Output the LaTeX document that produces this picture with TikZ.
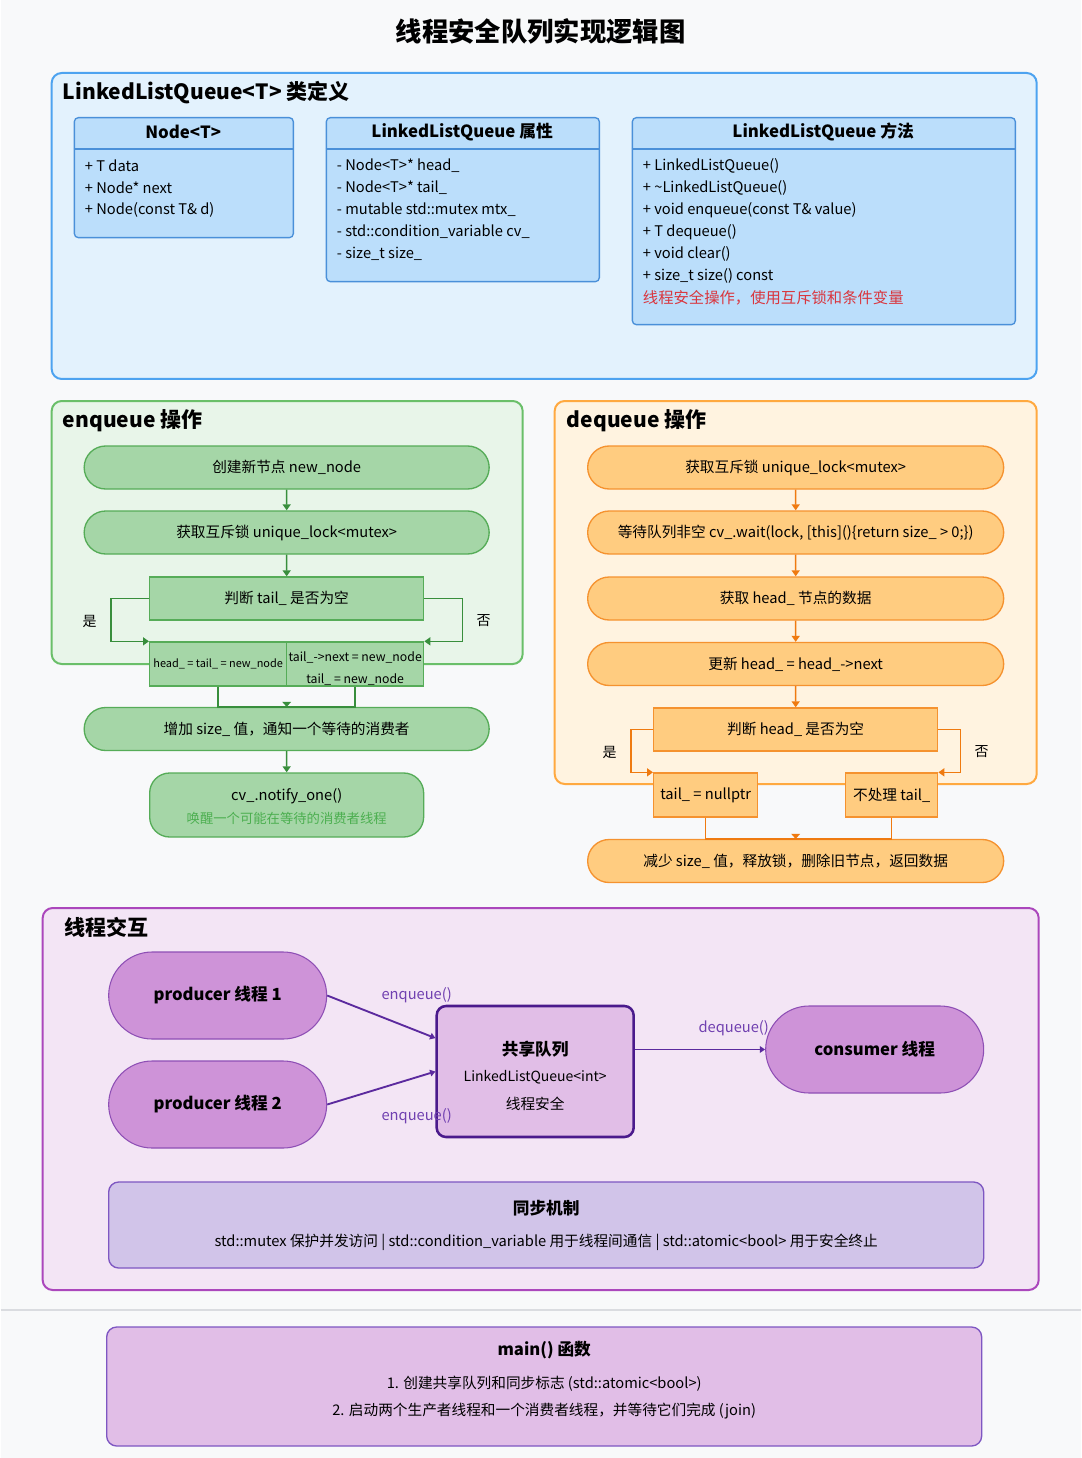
\documentclass[tikz,border=0pt]{standalone}
\usepackage{fontspec}
\setmainfont{Noto Sans CJK SC}
\usetikzlibrary{arrows.meta,calc,shapes.misc}
\definecolor{bgc}{HTML}{F8F9FA}
\definecolor{bSec}{HTML}{E3F2FD}
\definecolor{bSecLine}{HTML}{4DA3F0}
\definecolor{clsFill}{HTML}{BBDEFB}
\definecolor{clsLine}{HTML}{4A90D9}
\definecolor{gSec}{HTML}{E8F5E9}
\definecolor{gSecLine}{HTML}{6ABF69}
\definecolor{gNode}{HTML}{A5D6A7}
\definecolor{gLine}{HTML}{56AC58}
\definecolor{gDark}{HTML}{388E3C}
\definecolor{oSec}{HTML}{FFF3E0}
\definecolor{oSecLine}{HTML}{FFA940}
\definecolor{oNode}{HTML}{FFCC80}
\definecolor{oLine}{HTML}{F5922F}
\definecolor{oDark}{HTML}{EF7A10}
\definecolor{pSec}{HTML}{F3E5F5}
\definecolor{pSecLine}{HTML}{AB47BC}
\definecolor{pNode}{HTML}{CE93D8}
\definecolor{pNodeLine}{HTML}{8E4FB5}
\definecolor{qFill}{HTML}{E1BEE7}
\definecolor{qLine}{HTML}{4A1A8C}
\definecolor{pLink}{HTML}{5B2A9E}
\definecolor{pLabel}{HTML}{7040B0}
\definecolor{syncFill}{HTML}{D1C4E9}
\definecolor{syncLine}{HTML}{7E57C2}
\definecolor{redTxt}{HTML}{D9363E}
\definecolor{notifyTxt}{HTML}{4CAF50}
\definecolor{sepLine}{HTML}{DADCE0}
\newcommand\pxl{0.75pt}
\begin{document}
\begin{tikzpicture}[x=0.75pt,y=-0.75pt,
  every node/.style={inner sep=0pt},
  ttl/.style={font=\fontsize{19.75}{23}\selectfont\bfseries},
  secttl/.style={anchor=west,font=\fontsize{15.75}{18}\selectfont\bfseries},
  sec/.style={rounded corners=7.5pt,line width=1.5pt},
  clsbox/.style={draw=clsLine,fill=clsFill,rounded corners=3pt,line width=1pt,anchor=north west},
  clsline/.style={draw=clsLine,line width=1pt},
  clshead/.style={font=\fontsize{12.6}{14}\selectfont\bfseries},
  item/.style={anchor=west,font=\fontsize{11}{13}\selectfont},
  txt/.style={font=\fontsize{11}{13}\selectfont},
  bold/.style={font=\fontsize{12.5}{14}\selectfont\bfseries},
  small/.style={font=\fontsize{8.2}{9.6}\selectfont},
  lab/.style={font=\fontsize{10.5}{12}\selectfont},
  wide/.style={rounded rectangle,minimum width=405*\pxl,minimum height=43*\pxl},
  owide/.style={rounded rectangle,minimum width=416*\pxl,minimum height=43*\pxl},
  gnode/.style={draw=gLine,fill=gNode,line width=1pt,txt},
  onode/.style={draw=oLine,fill=oNode,line width=1pt,txt},
  garrow/.style={draw=gDark,line width=1.1pt,-{Triangle[length=4.5pt,width=6pt]}},
  gline/.style={draw=gDark,line width=1.1pt},
  oarrow/.style={draw=oDark,line width=1.1pt,-{Triangle[length=4.5pt,width=6pt]}},
  oline/.style={draw=oDark,line width=1.1pt},
  pnode/.style={rounded rectangle,draw=pNodeLine,fill=pNode,line width=0.8pt,minimum width=218*\pxl,minimum height=87*\pxl,font=\fontsize{12.5}{15}\selectfont\bfseries},
  plink/.style={draw=pLink,line width=1.4pt,-{Triangle[length=4pt,width=5pt]}},
  plab/.style={text=pLabel,font=\fontsize{11}{13}\selectfont}]
\fill[bgc] (0,0) rectangle (1080,1458);
\node[ttl] (title) at (540,31) {线程安全队列实现逻辑图};

\draw[sec,draw=bSecLine,fill=bSec] (51,73) rectangle (1036,379);
\node[secttl] (clsTitle) at (62,93) {LinkedListQueue<T> 类定义};
\node[clsbox,minimum width=219*\pxl,minimum height=120*\pxl] (clsNode) at (73,117) {};
\draw[clsline] ([yshift=-32*\pxl]clsNode.north west) -- ([yshift=-32*\pxl]clsNode.north east);
\node[clshead] (clsNodeHead) at (182.5,132) {Node<T>};
\foreach \t [count=\i] in {+ T data,+ Node* next,+ Node(const T\& d)}
  \node[item] (clsNode\i) at (84,144+22*\i) {\t};
\node[clsbox,minimum width=273*\pxl,minimum height=164*\pxl] (clsAttr) at (325,117) {};
\draw[clsline] ([yshift=-32*\pxl]clsAttr.north west) -- ([yshift=-32*\pxl]clsAttr.north east);
\node[clshead] (clsAttrHead) at (461.5,132) {LinkedListQueue 属性};
\foreach \t [count=\i] in {- Node<T>* head\_,- Node<T>* tail\_,- mutable std::mutex mtx\_,- std::condition\_variable cv\_,- size\_t size\_}
  \node[item] (clsAttr\i) at (336,144+22*\i) {\t};
\node[clsbox,minimum width=383*\pxl,minimum height=207*\pxl] (clsMeth) at (631,117) {};
\draw[clsline] ([yshift=-32*\pxl]clsMeth.north west) -- ([yshift=-32*\pxl]clsMeth.north east);
\node[clshead] (clsMethHead) at (822.5,132) {LinkedListQueue 方法};
\foreach \t [count=\i] in {+ LinkedListQueue(),+ \textasciitilde LinkedListQueue(),+ void enqueue(const T\& value),+ T dequeue(),+ void clear(),+ size\_t size() const}
  \node[item] (clsMeth\i) at (642,144+22*\i) {\t};
\node[item,text=redTxt,font=\fontsize{11.5}{13}\selectfont] (clsMethNote) at (642,298) {线程安全操作，使用互斥锁和条件变量};

\draw[sec,draw=gSecLine,fill=gSec] (51,401) rectangle (522,664);
\node[secttl] (enTitle) at (62,421) {enqueue 操作};
\node[gnode,wide] (enNew) at (286,467.5) {创建新节点 new\_node};
\node[gnode,wide] (enLock) at (286,532.5) {获取互斥锁 unique\_lock<mutex>};
\node[gnode,minimum width=274*\pxl,minimum height=43*\pxl] (enCheck) at (286,598.5) {判断 tail\_ 是否为空};
\node[gnode,small,minimum width=137*\pxl,minimum height=44*\pxl] (enYes) at (217.5,664) {head\_ = tail\_ = new\_node};
\node[gnode,minimum width=137*\pxl,minimum height=44*\pxl] (enNo) at (354.5,664) {};
\node[font=\fontsize{9.2}{10.8}\selectfont] (enNo1) at (354.5,657) {tail\_->next = new\_node};
\node[font=\fontsize{9.2}{10.8}\selectfont] (enNo2) at (354.5,679) {tail\_ = new\_node};
\node[gnode,wide] (enSize) at (286,729) {增加 size\_ 值，通知一个等待的消费者};
\node[gnode,rounded corners=15pt,minimum width=274*\pxl,minimum height=64*\pxl] (enNotify) at (286,805) {};
\node[txt] (enNotify1) at (286,796) {cv\_.notify\_one()};
\node[txt,text=notifyTxt,font=\fontsize{10}{11.7}\selectfont] (enNotify2) at (286,818) {唤醒一个可能在等待的消费者线程};
\node[lab] (enYesLab) at (89,621) {是};
\node[lab] (enNoLab) at (483,621) {否};
\draw[garrow] (enNew) -- (enLock);
\draw[garrow] (enLock) -- (enCheck);
\draw[garrow] (enCheck.west) -- ++(-38,0) |- (enYes.north west);
\draw[garrow] (enCheck.east) -- ++(38,0) |- (enNo.north east);
\draw[gline] (enYes.south) |- (enSize.north);
\draw[gline] (enNo.south) |- (enSize.north);
\fill[gDark] (enSize.north) -- ++(-4.5,-5) -- ++(9,0) -- cycle;
\draw[garrow] (enSize) -- (enNotify);

\draw[sec,draw=oSecLine,fill=oSec] (554,401) rectangle (1036,784);
\node[secttl] (deTitle) at (566,421) {dequeue 操作};
\node[onode,owide] (deLock) at (795,467.5) {获取互斥锁 unique\_lock<mutex>};
\node[onode,owide] (deWait) at (795,532.5) {等待队列非空 cv\_.wait(lock, [this](){\{}return size\_ > 0;{\}})};
\node[onode,owide] (deHead) at (795,598.5) {获取 head\_ 节点的数据};
\node[onode,owide] (deNext) at (795,664) {更新 head\_ = head\_->next};
\node[onode,minimum width=284*\pxl,minimum height=43*\pxl] (deCheck) at (795,729.5) {判断 head\_ 是否为空};
\node[onode,minimum width=104*\pxl,minimum height=44*\pxl] (deNull) at (705,795) {tail\_ = nullptr};
\node[onode,minimum width=92*\pxl,minimum height=44*\pxl] (deKeep) at (891,795) {不处理 tail\_};
\node[onode,owide] (deRet) at (795,861) {减少 size\_ 值，释放锁，删除旧节点，返回数据};
\node[lab] (deYesLab) at (609,752) {是};
\node[lab] (deNoLab) at (981,752) {否};
\draw[oarrow] (deLock) -- (deWait);
\draw[oarrow] (deWait) -- (deHead);
\draw[oarrow] (deHead) -- (deNext);
\draw[oarrow] (deNext) -- (deCheck);
\draw[oarrow] (deCheck.west) -- ++(-22,0) |- (deNull.north west);
\draw[oarrow] (deCheck.east) -- ++(22,0) |- (deKeep.north east);
\draw[oline] (deNull.south) |- (deRet.north);
\draw[oline] (deKeep.south) |- (deRet.north);
\fill[oDark] (deRet.north) -- ++(-4.5,-5) -- ++(9,0) -- cycle;

\draw[sec,draw=pSecLine,fill=pSec] (42,908) rectangle (1038,1290);
\node[secttl] (thTitle) at (64,927) {线程交互};
\node[pnode] (prod1) at (217,995.5) {producer 线程 1};
\node[pnode] (prod2) at (217,1104.5) {producer 线程 2};
\node[pnode] (cons) at (874,1049.5) {consumer 线程};
\node[draw=qLine,fill=qFill,line width=1.9pt,rounded corners=7pt,minimum width=197*\pxl,minimum height=131*\pxl] (queue) at (534.5,1071.5) {};
\node[bold] (queue1) at (534.5,1049) {共享队列};
\node[txt,font=\fontsize{10.5}{12}\selectfont] (queue2) at (534.5,1077) {LinkedListQueue<int>};
\node[txt] (queue3) at (534.5,1104) {线程安全};
\draw[plink] (prod1.east) -- ($(queue.north west)!0.25!(queue.south west)$);
\draw[plink] (prod2.east) -- (queue.west);
\draw[plink] (queue.east |- cons.west) -- (cons.west);
\node[plab] (lnk1) at (416,995) {enqueue()};
\node[plab] (lnk2) at (416,1116) {enqueue()};
\node[plab] (lnk3) at (733,1028) {dequeue()};
\node[draw=syncLine,fill=syncFill,line width=1pt,rounded corners=7.5pt,minimum width=875*\pxl,minimum height=86*\pxl] (sync) at (545.5,1225) {};
\node[bold] (sync1) at (545.5,1208) {同步机制};
\node[txt] (sync2) at (545.5,1242) {std::mutex 保护并发访问 | std::condition\_variable 用于线程间通信 | std::atomic<bool> 用于安全终止};

\draw[sepLine,line width=1pt] (0,1310) -- (1080,1310);
\node[draw=syncLine,fill=qFill,line width=1pt,rounded corners=7.5pt,minimum width=875*\pxl,minimum height=119*\pxl] (mainBox) at (543.5,1386.5) {};
\node[bold] (main1) at (543.5,1350) {main() 函数};
\node[txt] (main2) at (543.5,1384) {1. 创建共享队列和同步标志 (std::atomic<bool>)};
\node[txt] (main3) at (543.5,1411) {2. 启动两个生产者线程和一个消费者线程，并等待它们完成 (join)};
\end{tikzpicture}
\end{document}
